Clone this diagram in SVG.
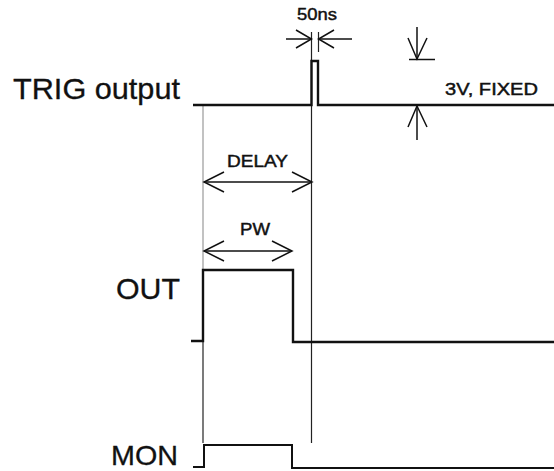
<svg xmlns="http://www.w3.org/2000/svg" width="554" height="471" viewBox="0 0 554 471">
<style>
.lbl{font-family:"Liberation Sans",Arial,sans-serif;fill:#111}
.big{font-size:29px;stroke:#111;stroke-width:0.3}
.sm{font-size:17px;stroke:#111;stroke-width:0.45}
.wave{fill:none;stroke:#111;stroke-width:2.4;stroke-linejoin:miter}
.guide{fill:none;stroke:#222;stroke-width:1.2}
.dim{fill:none;stroke:#111;stroke-width:1.5}
</style>
<rect width="554" height="471" fill="#fff"/>
<g id="labels">
<text class="lbl big" x="13" y="99" textLength="167" lengthAdjust="spacingAndGlyphs">TRIG output</text>
<text class="lbl big" x="116" y="299" textLength="64" lengthAdjust="spacingAndGlyphs">OUT</text>
<text class="lbl big" x="111" y="465" font-size="28" style="font-size:28px" textLength="67" lengthAdjust="spacingAndGlyphs">MON</text>
</g>
<g id="connectors">
<line class="guide" x1="203" y1="106" x2="203" y2="270" style="stroke:#999"/>
<line class="guide" x1="203" y1="342" x2="203" y2="443"/>
<line class="guide" x1="311.5" y1="32" x2="311.5" y2="443"/>
<line class="guide" x1="318.5" y1="32" x2="318.5" y2="52"/>
</g>
<g id="trig-wave">
<polyline class="wave" points="193,105 311.5,105 311.5,61 318,61 318,105 554,105"/>
</g>
<g id="out-wave">
<polyline class="wave" points="191,341 203,341 203,270 293,270 293,342 554,342"/>
</g>
<g id="mon-wave">
<polyline class="wave" style="stroke-width:2" points="193,467 204,467 204,445 292,445 292,468 554,468"/>
</g>
<g id="dim-50ns">
<text class="lbl sm" x="297" y="20" textLength="40" lengthAdjust="spacingAndGlyphs">50ns</text>
<polyline class="dim" points="286,39 311.5,39"/>
<polyline class="dim" points="296,30 311.5,39 296,48"/>
<polyline class="dim" points="318.5,39 352,39"/>
<polyline class="dim" points="334,30 318.5,39 334,48"/>
</g>
<g id="dim-3v">
<line class="dim" x1="417" y1="27" x2="417" y2="59"/>
<polyline class="dim" points="408,38 417,59 427,38"/>
<line class="dim" x1="409" y1="59.5" x2="435" y2="59.5"/>
<line class="dim" x1="417" y1="105" x2="417" y2="140"/>
<polyline class="dim" points="408,127 417,106 427,127"/>
<text class="lbl sm" x="445" y="95" textLength="93" lengthAdjust="spacingAndGlyphs">3V, FIXED</text>
</g>
<g id="dim-delay">
<text class="lbl sm" x="227" y="167" textLength="61" lengthAdjust="spacingAndGlyphs">DELAY</text>
<line class="dim" x1="204" y1="182" x2="312" y2="182"/>
<polyline class="dim" points="224,172 204,182 224,192"/>
<polyline class="dim" points="292,172 312,182 292,192"/>
</g>
<g id="dim-pw">
<text class="lbl sm" x="240" y="235" textLength="30" lengthAdjust="spacingAndGlyphs">PW</text>
<line class="dim" x1="204" y1="251" x2="292" y2="251"/>
<polyline class="dim" points="224,241 204,251 224,261"/>
<polyline class="dim" points="272,241 292,251 272,261"/>
</g>
</svg>
